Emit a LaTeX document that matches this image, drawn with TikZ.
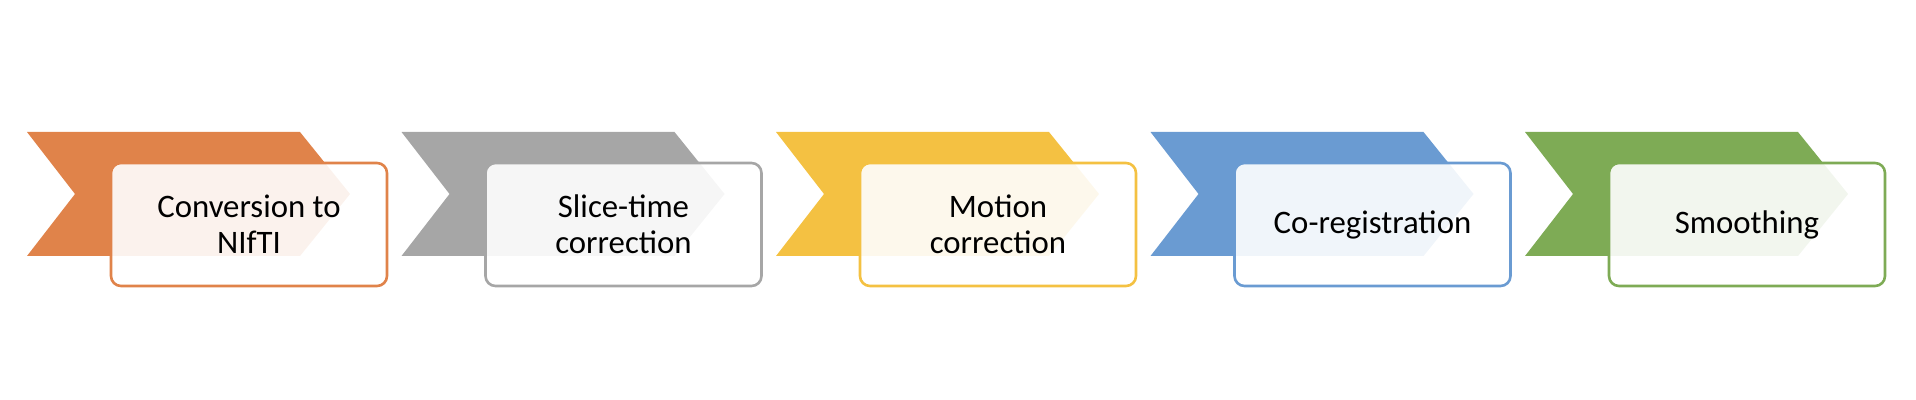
\documentclass[tikz,border=0pt]{standalone}
\usepackage{fontspec}
\setmainfont{Carlito}
\usepackage{tikz}
\usepackage{xcolor}
\usetikzlibrary{positioning}
\definecolor{cO}{HTML}{E0834A}
\definecolor{cG}{HTML}{A6A6A6}
\definecolor{cY}{HTML}{F4C142}
\definecolor{cB}{HTML}{6A9BD2}
\definecolor{cN}{HTML}{7EAB55}
\tikzset{
  chev/.style={fill=#1},
  stepbox/.style={rounded corners=5pt,draw=#1,line width=1.3pt,fill=white,
              fill opacity=.9,text opacity=1,minimum width=138pt,
              minimum height=61.5pt,inner sep=2pt,align=center,
              font=\fontsize{16.4}{18}\selectfont},
}

\begin{document}
\begin{tikzpicture}[x=0.5pt,y=-0.5pt]
  \useasboundingbox (0,0) rectangle (1916,400);
  \foreach \i/\col/\txt in {0/cO/{Conversion to\\NIfTI},1/cG/{Slice-time\\correction},
      2/cY/{Motion\\correction},3/cB/{Co-registration},4/cN/{Smoothing}}{
    \pgfmathsetmacro\xx{27+374.5*\i}
    \fill[chev=\col] (\xx,132) -- ++(273,0) -- ++(50,62) -- ++(-50,62)
       -- ++(-273,0) -- ++(48,-62) -- cycle;
    \node[stepbox=\col] (s\i) at (\xx+222,224.5) {\txt};
  }
\end{tikzpicture}
\end{document}
